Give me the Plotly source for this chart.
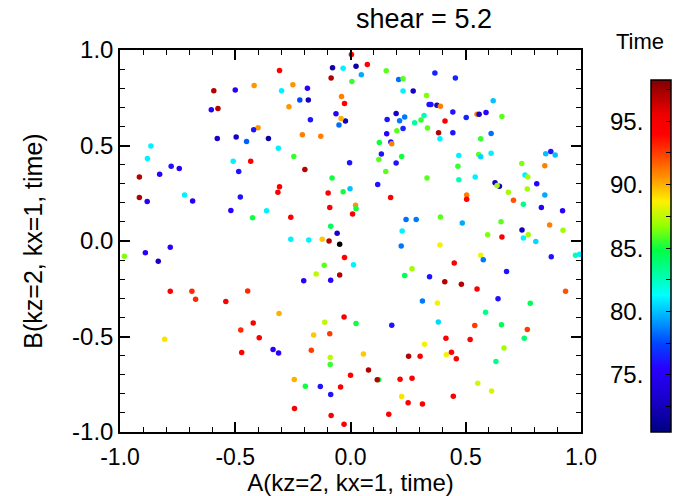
import plotly.graph_objects as go

# ---- data ----
A = [0.004, 0.073, -0.078, -0.032, 0.024, -0.308, -0.084, 0.006, 0.047, 0.155,
     0.209, 0.228, 0.366, 0.455, -0.593, -0.500, -0.418, -0.299, -0.250, -0.187,
     0.228, 0.272, 0.330, -0.604, -0.575, -0.267, -0.220, -0.183, -0.039, -0.026,
     0.341, 0.349, 0.375, 0.390, 0.619, -0.063, -0.174, -0.022, -0.041, -0.050,
     0.159, 0.198, 0.213, 0.235, 0.278, 0.306, 0.319, 0.410, 0.444, 0.502,
     0.549, 0.558, 0.588, 0.657, -0.401, -0.420, -0.578, -0.496, -0.451, -0.356,
     -0.209, -0.129, 0.228, 0.201, 0.157, 0.334, 0.382, 0.388, 0.444, 0.565,
     0.610, 0.175, 0.179, 0.125, -0.866, -0.881, -0.313, 0.134, 0.222, 0.470,
     0.556, 0.565, 0.610, 0.847, 0.869, 0.888, -0.246, -0.778, -0.743, -0.509,
     -0.433, -0.485, -0.004, 0.123, 0.198, 0.466, 0.743, 0.843, -0.916, -0.828,
     -0.198, 0.153, 0.470, 0.541, 0.332, 0.757, 0.769, -0.080, -0.308, 0.627,
     0.646, 0.636, 0.808, -0.916, -0.882, -0.720, -0.685, -0.478, -0.315, -0.097,
     -0.032, -0.002, 0.118, 0.174, 0.504, 0.504, 0.685, 0.707, 0.767, 0.750,
     0.843, 0.828, 0.920, -0.519, -0.364, -0.425, -0.090, 0.022, 0.024, 0.009,
     -0.259, 0.241, 0.285, 0.390, 0.485, 0.653, 0.864, 0.922, 0.744, 0.771,
     0.750, 0.804, 0.595, 0.657, -0.086, -0.058, -0.259, -0.181, -0.123, -0.093,
     -0.047, 0.224, 0.220, 0.388, -0.981, -0.890, -0.782, -0.834, -0.026, 0.013,
     -0.114, -0.149, -0.047, -0.203, -0.086, 0.235, 0.267, 0.343, 0.450, 0.565,
     0.576, 0.677, 0.871, 0.976, 0.994, 0.409, 0.481, 0.549, -0.782, -0.688,
     -0.672, -0.541, -0.446, 0.312, 0.377, 0.640, 0.780, 0.933, -0.310, -0.028,
     0.586, -0.422, -0.476, -0.396, -0.806, -0.112, 0.024, 0.179, 0.381, 0.539,
     0.655, 0.767, -0.090, -0.160, 0.414, 0.519, 0.754, -0.472, -0.336, -0.312,
     -0.170, 0.056, -0.088, 0.321, 0.666, 0.252, 0.302, 0.416, 0.438, 0.459,
     -0.088, 0.631, 0.078, 0.000, -0.244, 0.122, 0.116, 0.215, 0.267, 0.552,
     -0.196, -0.131, -0.043, -0.086, 0.612, 0.222, 0.446, 0.250, 0.312, -0.243,
     0.166, -0.084, -0.028]

B = [0.976, 0.924, 0.907, 0.905, 0.915, 0.893, 0.854, 0.835, 0.870, 0.891,
     0.846, 0.849, 0.879, 0.853, 0.786, 0.790, 0.814, 0.786, 0.818, 0.800,
     0.785, 0.785, 0.762, 0.687, 0.694, 0.703, 0.738, 0.738, 0.757, 0.720,
     0.715, 0.715, 0.711, 0.706, 0.734, 0.666, 0.635, 0.628, 0.642, 0.607,
     0.636, 0.668, 0.629, 0.649, 0.619, 0.633, 0.657, 0.628, 0.675, 0.647,
     0.664, 0.663, 0.673, 0.652, 0.593, 0.582, 0.537, 0.544, 0.521, 0.537,
     0.556, 0.548, 0.589, 0.577, 0.561, 0.591, 0.567, 0.535, 0.567, 0.535,
     0.563, 0.518, 0.509, 0.516, 0.497, 0.432, 0.485, 0.455, 0.443, 0.448,
     0.453, 0.441, 0.460, 0.457, 0.469, 0.450, 0.443, 0.392, 0.380, 0.417,
     0.417, 0.364, 0.410, 0.427, 0.408, 0.391, 0.406, 0.394, 0.335, 0.349,
     0.375, 0.364, 0.321, 0.335, 0.330, 0.345, 0.335, 0.330, 0.284, 0.305,
     0.286, 0.291, 0.300, 0.228, 0.207, 0.241, 0.209, 0.230, 0.255, 0.251,
     0.258, 0.274, 0.296, 0.228, 0.241, 0.218, 0.255, 0.214, 0.272, 0.192,
     0.241, 0.176, 0.159, 0.160, 0.159, 0.122, 0.176, 0.187, 0.169, 0.141,
     0.124, 0.112, 0.112, 0.126, 0.094, 0.101, 0.084, 0.056, 0.058, 0.033,
     0.016, -0.003, 0.033, 0.021, 0.077, 0.040, 0.009, 0.005, 0.009, 0.000,
     -0.017, 0.052, -0.026, -0.021, -0.080, -0.061, -0.033, -0.106, -0.087, -0.124,
     -0.127, -0.173, -0.178, -0.208, -0.206, -0.180, -0.145, -0.187, -0.115, -0.075,
     -0.098, -0.160, -0.082, -0.075, -0.070, -0.214, -0.227, -0.251, -0.263, -0.263,
     -0.305, -0.317, -0.262, -0.314, -0.324, -0.303, -0.326, -0.263, -0.380, -0.398,
     -0.373, -0.429, -0.466, -0.506, -0.514, -0.425, -0.432, -0.441, -0.424, -0.443,
     -0.438, -0.464, -0.485, -0.492, -0.509, -0.516, -0.509, -0.584, -0.568, -0.586,
     -0.572, -0.591, -0.610, -0.541, -0.560, -0.603, -0.603, -0.596, -0.582, -0.617,
     -0.647, -0.631, -0.675, -0.703, -0.725, -0.727, -0.727, -0.724, -0.718, -0.745,
     -0.760, -0.762, -0.764, -0.804, -0.785, -0.814, -0.813, -0.847, -0.853, -0.877,
     -0.907, -0.914, -0.959]

TIME = [94.5, 94.5, 72.0, 81.0, 72.0, 94.5, 97.0, 85.5, 79.5, 86.0,
        78.3, 86.0, 76.5, 76.5, 97.0, 75.5, 90.5, 81.0, 90.5, 75.5,
        81.0, 73.0, 86.5, 75.5, 97.0, 90.5, 77.5, 72.5, 91.0, 94.5,
        76.0, 76.0, 73.0, 91.0, 80.0, 75.5, 76.0, 72.5, 90.0, 78.3,
        76.0, 73.0, 78.5, 78.5, 83.0, 85.5, 82.5, 94.5, 76.0, 76.5,
        91.0, 73.0, 75.5, 86.0, 90.5, 76.0, 73.0, 73.0, 78.0, 72.0,
        91.0, 91.0, 76.5, 86.0, 75.5, 86.0, 97.0, 81.0, 76.0, 85.5,
        78.3, 76.0, 91.0, 85.0, 81.0, 81.0, 81.0, 76.0, 85.0, 81.0,
        86.0, 80.5, 81.0, 80.0, 76.0, 80.0, 85.5, 76.0, 75.0, 81.0,
        94.5, 76.0, 76.0, 86.0, 76.0, 85.5, 86.5, 91.0, 97.0, 75.5,
        97.0, 86.0, 82.5, 81.0, 86.0, 81.0, 87.0, 85.0, 94.5, 73.0,
        72.5, 87.0, 75.5, 97.0, 75.0, 81.0, 75.0, 76.0, 94.5, 94.5,
        85.0, 80.0, 76.0, 94.5, 91.0, 94.0, 87.0, 92.0, 87.0, 83.5,
        79.5, 75.5, 75.5, 75.5, 81.0, 85.0, 94.5, 90.5, 85.0, 94.5,
        94.5, 78.3, 78.5, 86.0, 79.5, 86.0, 91.0, 87.0, 72.5, 87.0,
        81.0, 80.5, 86.5, 94.5, 84.5, 73.0, 81.0, 81.0, 89.5, 97.0,
        70.48, 81.0, 78.5, 88.5, 86.5, 75.5, 75.5, 73.0, 94.5, 81.0,
        86.0, 87.5, 97.0, 75.5, 75.5, 84.5, 87.0, 76.0, 94.5, 88.5,
        78.5, 76.0, 76.0, 82.5, 81.0, 97.0, 97.0, 94.5, 94.5, 93.0,
        93.0, 94.5, 93.0, 78.5, 88.5, 76.0, 84.5, 92.0, 90.0, 94.5,
        83.5, 94.5, 93.0, 94.5, 89.0, 87.5, 85.0, 76.0, 80.5, 92.5,
        84.5, 92.5, 92.5, 89.5, 94.5, 94.5, 84.0, 94.5, 75.5, 75.5,
        92.5, 89.5, 87.5, 88.5, 87.0, 97.0, 94.5, 88.5, 94.5, 94.5,
        85.5, 83.5, 97.0, 94.5, 90.0, 85.0, 97.0, 94.5, 94.5, 88.0,
        85.0, 76.0, 94.5, 76.0, 88.0, 89.0, 94.5, 94.5, 94.5, 94.5,
        94.5, 94.5, 94.5]

AXIS_TICKS = [-1.0, -0.5, 0.0, 0.5, 1.0]
AXIS_TICK_LABELS = ["-1.0", "-0.5", "0.0", "0.5", "1.0"]

T_MIN, T_MAX = 70.48, 98.26
CBAR_TICKS = [75, 80, 85, 90, 95]

FONT = "Liberation Sans, Arial, Helvetica, sans-serif"
W, H = 675, 496
ML, MR, MT, MB = 120, 94, 50, 64
PW, PH = W - ML - MR, H - MT - MB


def px_x(px):
    # page pixel -> paper x
    return (px - ML) / PW


def px_y(py):
    # page pixel (from top) -> paper y
    return (H - MB - py) / PH


# IDL-like rainbow table (index 0 is black)
stops = [(70.48, "rgb(0,0,0)"), (70.55, "rgb(0,0,130)"), (73.0, "rgb(25,0,200)"),
         (75.5, "rgb(40,0,255)"), (77.5, "rgb(0,70,255)"), (79.5, "rgb(0,170,255)"),
         (81.3, "rgb(0,255,255)"), (83.0, "rgb(0,255,160)"), (84.8, "rgb(0,255,70)"),
         (86.8, "rgb(150,255,0)"), (88.7, "rgb(255,240,0)"), (90.5, "rgb(255,150,0)"),
         (92.5, "rgb(255,60,0)"), (94.0, "rgb(255,0,0)"), (95.5, "rgb(240,0,0)"),
         (98.26, "rgb(130,0,0)")]
colorscale = [[(v - T_MIN) / (T_MAX - T_MIN), c] for v, c in stops]

# colour bar box, in pixels of the page
CB_LEFT, CB_TOP, CB_BOTTOM = 651, 80, 432
CB_Y0, CB_Y1 = px_y(CB_BOTTOM), px_y(CB_TOP)

fig = go.Figure()
fig.add_trace(go.Scatter(
    x=A, y=B, mode="markers",
    marker=dict(size=5.5, color=TIME, colorscale=colorscale, cmin=T_MIN, cmax=T_MAX,
                line=dict(width=0),
                colorbar=dict(x=px_x(CB_LEFT), xanchor="left",
                              y=CB_Y0, yanchor="bottom",
                              len=CB_Y1 - CB_Y0, lenmode="fraction",
                              thickness=20, xpad=0, ypad=0,
                              outlinecolor="black", outlinewidth=1.5,
                              ticks="inside", ticklen=5, tickcolor="black",
                              tick0=75, dtick=2.5, showticklabels=False)),
    showlegend=False))

axis_common = dict(range=[-1, 1], tickvals=AXIS_TICKS, ticktext=AXIS_TICK_LABELS,
                   showgrid=False, zeroline=False, automargin=False,
                   showline=True, linecolor="black", linewidth=1.5,
                   mirror="ticks", ticks="inside", ticklen=10, tickwidth=1.5,
                   tickcolor="black",
                   minor=dict(dtick=0.1, ticks="inside", ticklen=5, tickcolor="black",
                              tickwidth=1, showgrid=False),
                   tickfont=dict(family=FONT, size=24, color="black"))

fig.update_xaxes(**axis_common, ticklabelstandoff=4,
                 title=dict(text="A(kz=2, kx=1, time)", standoff=0,
                            font=dict(family=FONT, size=24, color="black")))
fig.update_xaxes(tickfont_size=23)
fig.update_yaxes(**axis_common,
                 title=dict(text="B(kz=2, kx=1, time)", standoff=22,
                            font=dict(family=FONT, size=25, color="black")))

# colorbar labels sit on the left of the bar in the original
for v in CBAR_TICKS:
    fig.add_annotation(xref="paper", yref="paper", x=px_x(645), xanchor="right",
                       y=CB_Y0 + (v - T_MIN) / (T_MAX - T_MIN) * (CB_Y1 - CB_Y0),
                       yanchor="middle", text=f"{v}.", showarrow=False,
                       font=dict(family=FONT, size=24, color="black"))

fig.add_annotation(xref="paper", yref="paper", x=px_x(614), xanchor="left",
                   y=px_y(42), yanchor="middle", text="Time", showarrow=False,
                   font=dict(family=FONT, size=22, color="black"))

fig.update_layout(
    width=W, height=H,
    margin=dict(l=ML, r=MR, t=MT, b=MB, autoexpand=False),
    paper_bgcolor="white", plot_bgcolor="white",
    title=dict(text="shear = 5.2", x=424 / W, xref="container", xanchor="center",
               y=1 - 19 / H, yref="container", yanchor="middle",
               font=dict(family=FONT, size=27, color="black")),
    font=dict(family=FONT, color="black"),
)

# the page body has a default 8px margin; drop it so the figure fills the window
fig.write_html("out.html", config={"displayModeBar": False},
               post_script="document.body.style.margin='0';")
